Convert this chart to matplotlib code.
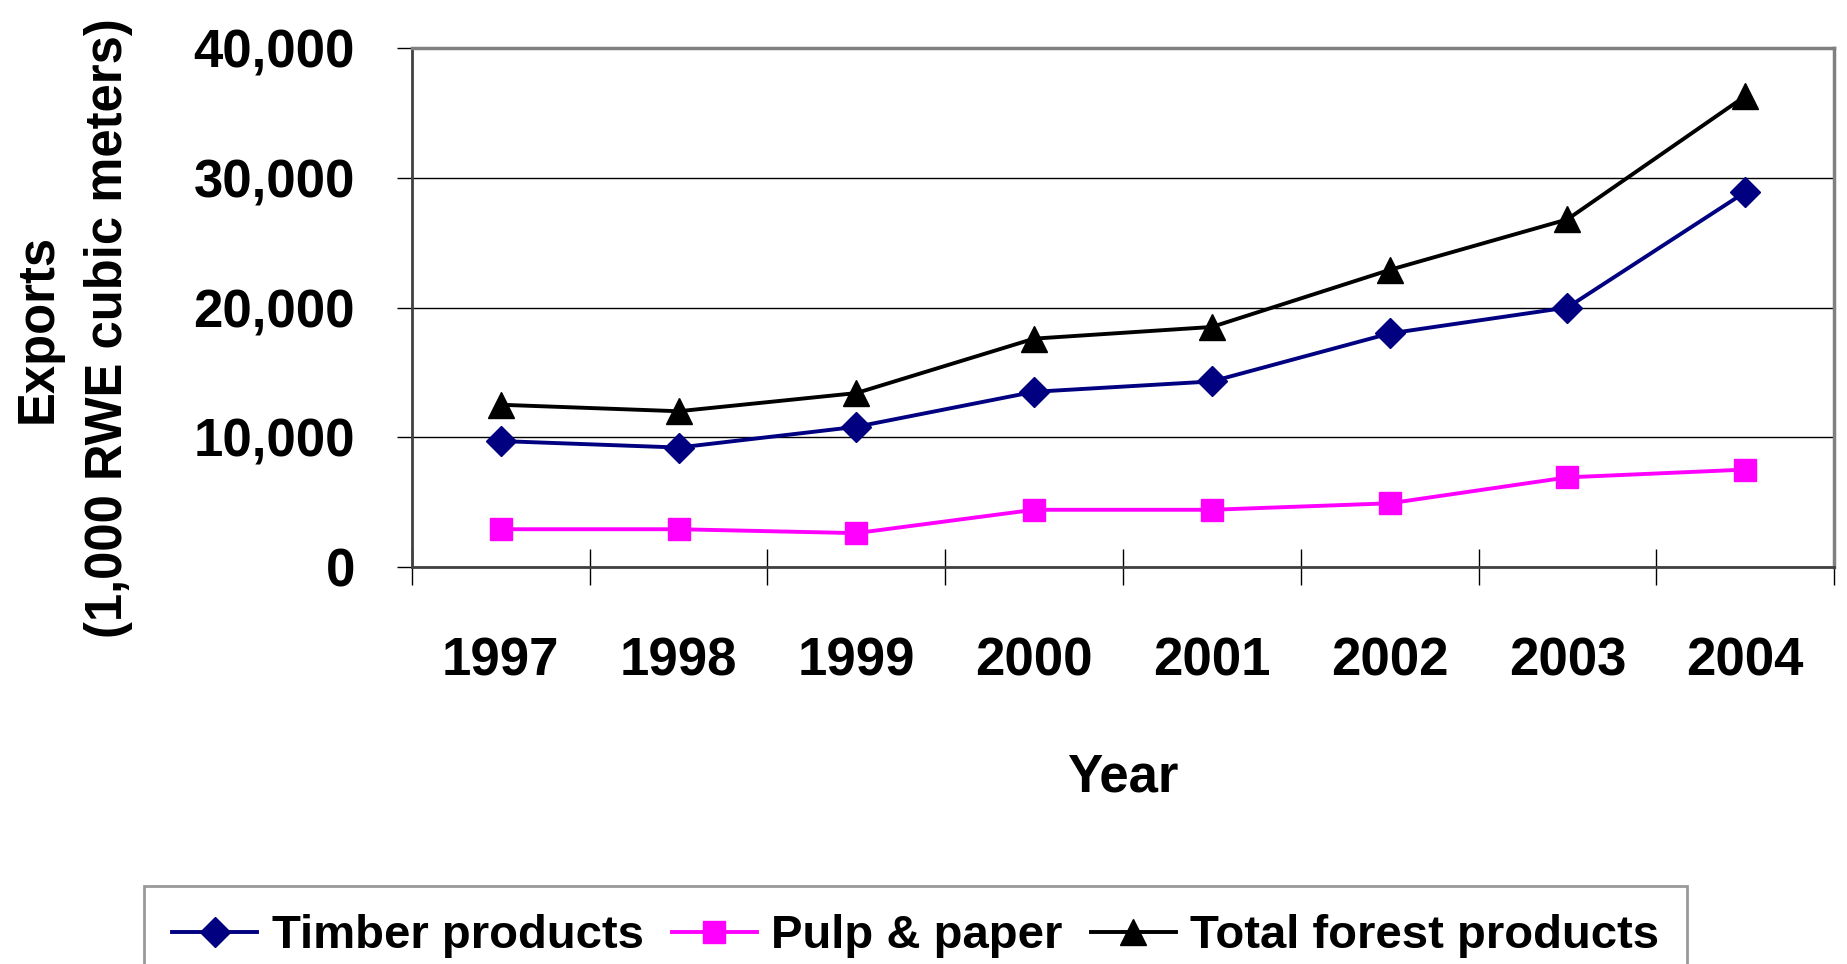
import matplotlib
matplotlib.use("Agg")
import matplotlib.pyplot as plt
from matplotlib.ticker import FuncFormatter

years = ["1997", "1998", "1999", "2000", "2001", "2002", "2003", "2004"]
timber = [9700, 9200, 10800, 13500, 14300, 18000, 20000, 28900]
pulp = [2900, 2900, 2600, 4400, 4400, 4900, 6900, 7500]
total = [12500, 12000, 13400, 17600, 18500, 22900, 26800, 36300]

font = ["Liberation Sans", "DejaVu Sans"]

fig = plt.figure(figsize=(18.47, 9.64), dpi=100)
ax = fig.add_axes([0.223, 0.412, 0.770, 0.538])

x = list(range(len(years)))
ax.plot(x, timber, color="#000080", lw=2.8, marker="D", ms=15,
        mfc="#000080", mec="#000080", label="Timber products", zorder=3)
ax.plot(x, pulp, color="#FF00FF", lw=2.8, marker="s", ms=16,
        mfc="#FF00FF", mec="#FF00FF", label="Pulp & paper", zorder=3)
ax.plot(x, total, color="black", lw=2.8, marker="^", ms=19,
        mfc="black", mec="black", label="Total forest products", zorder=3)

ax.set_xlim(-0.5, len(years) - 0.5)
ax.set_ylim(0, 40000)
ax.set_yticks([0, 10000, 20000, 30000, 40000])
ax.yaxis.set_major_formatter(FuncFormatter(lambda v, p: f"{int(v):,}"))
ax.yaxis.grid(True, color="black", lw=1)
ax.set_axisbelow(True)

ax.set_xticks(x)
ax.set_xticklabels(years)
ax.set_xticks([i - 0.5 for i in range(len(years) + 1)], minor=True)
ax.tick_params(axis="x", which="major", length=0, pad=50)
ax.tick_params(axis="x", which="minor", direction="inout", length=26, width=1, color="black")
ax.tick_params(axis="y", which="major", direction="out", length=11, width=1, color="black", pad=30)

for lab in ax.get_xticklabels() + ax.get_yticklabels():
    lab.set_fontfamily(font)
    lab.set_fontweight("bold")
    lab.set_fontsize(38)

for side in ["top", "right"]:
    ax.spines[side].set_color("#808080")
    ax.spines[side].set_linewidth(2.5)
for side in ["left", "bottom"]:
    ax.spines[side].set_color("#404040")
    ax.spines[side].set_linewidth(2)

ax.set_xlabel("Year", family=font, fontweight="bold", fontsize=38, labelpad=48)
ax.set_ylabel("Exports\n(1,000 RWE cubic meters)", family=font, fontweight="bold",
              fontsize=36.5, linespacing=1.55, va="center")
ax.yaxis.set_label_coords(-0.238, 0.46)

leg = fig.legend(loc="upper left", bbox_to_anchor=(0.078, 0.081), ncol=3,
                 prop={"family": font, "weight": "bold", "size": 34},
                 frameon=True, fancybox=False, handlelength=1.8, handletextpad=0.3,
                 columnspacing=0.6, borderpad=0.6, borderaxespad=0)
leg.get_frame().set_edgecolor("#808080")
leg.get_frame().set_linewidth(2)

fig.savefig("out.png", dpi=100)
